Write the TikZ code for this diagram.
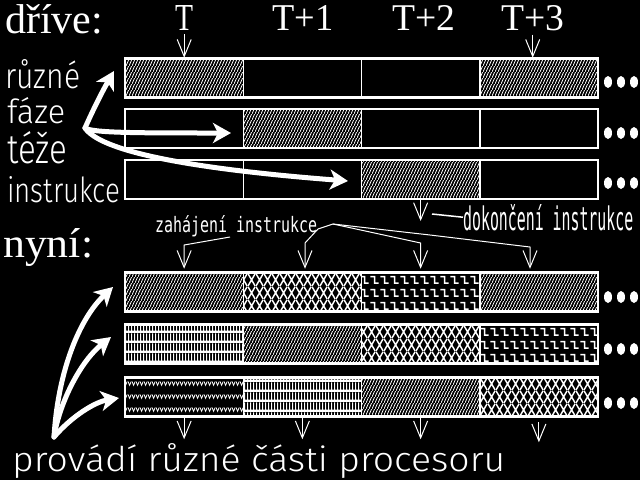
\documentclass[tikz,border=0pt]{standalone}
\usepackage{fontspec}
\setmainfont{Liberation Serif}
\newfontfamily\thin{Fira Sans Light}
\newfontfamily\monof{DejaVu Sans Mono}
\usepackage{graphicx}
\usetikzlibrary{patterns,arrows.meta}
\newcommand{\fitt}[3]{\resizebox{#1pt}{#2pt}{#3}}
\pgfdeclarepatternformonly{dith}{\pgfpointorigin}{\pgfqpoint{3pt}{6pt}}{\pgfqpoint{3pt}{6pt}}{%
  \pgfsetlinewidth{1pt}%
  \pgfpathmoveto{\pgfqpoint{-0.5pt}{-1pt}}\pgfpathlineto{\pgfqpoint{3.5pt}{7pt}}\pgfusepath{stroke}}
\pgfdeclarepatternformonly{diam}{\pgfpointorigin}{\pgfqpoint{8pt}{13pt}}{\pgfqpoint{8pt}{13pt}}{%
  \pgfsetlinewidth{1.6pt}%
  \pgfpathmoveto{\pgfqpoint{0pt}{0pt}}\pgfpathlineto{\pgfqpoint{8pt}{13pt}}%
  \pgfpathmoveto{\pgfqpoint{8pt}{0pt}}\pgfpathlineto{\pgfqpoint{0pt}{13pt}}\pgfusepath{stroke}}
\pgfdeclarepatternformonly{zig}{\pgfpointorigin}{\pgfqpoint{10pt}{13pt}}{\pgfqpoint{10pt}{13pt}}{%
  \pgfsetlinewidth{1.6pt}%
  \pgfpathmoveto{\pgfqpoint{0.5pt}{10pt}}\pgfpathlineto{\pgfqpoint{5pt}{10pt}}%
  \pgfpathlineto{\pgfqpoint{5pt}{3pt}}\pgfpathlineto{\pgfqpoint{9.5pt}{3pt}}\pgfusepath{stroke}}
\pgfdeclarepatternformonly{bars}{\pgfpointorigin}{\pgfqpoint{3.4pt}{9.75pt}}{\pgfqpoint{3.4pt}{9.75pt}}{%
  \pgfpathrectangle{\pgfpointorigin}{\pgfqpoint{3.4pt}{2.5pt}}%
  \pgfpathrectangle{\pgfpointorigin}{\pgfqpoint{1.3pt}{9.75pt}}\pgfusepath{fill}}
\pgfdeclarepatternformonly{wave}{\pgfpointorigin}{\pgfqpoint{4pt}{13pt}}{\pgfqpoint{4pt}{13pt}}{%
  \pgfsetlinewidth{1pt}%
  \pgfpathmoveto{\pgfqpoint{0pt}{9pt}}\pgfpathlineto{\pgfqpoint{2pt}{5pt}}\pgfpathlineto{\pgfqpoint{4pt}{9pt}}\pgfusepath{stroke}}
\begin{document}
\begin{tikzpicture}[x=1pt,y=-1pt,
  txt/.style={inner sep=0pt, anchor=base west, text=white},
  cell/.style={draw=white, line width=1.5pt, minimum width=118.25pt, minimum height=39pt, inner sep=0pt},
  rowbox/.style={draw=white, line width=2.5pt, minimum width=473pt, minimum height=39pt, inner sep=0pt},
  pdith/.style={pattern=dith, pattern color=white},
  pdiam/.style={pattern=diam, pattern color=white},
  pzig/.style={pattern=zig, pattern color=white},
  pbars/.style={pattern=bars, pattern color=white},
  pwave/.style={pattern=wave, pattern color=white},
  big/.style={draw=white, line width=5pt, line cap=round, -{Stealth[length=18pt,width=20pt,inset=5pt]}},
  sar/.style={draw=white, line width=1pt, -{Straight Barb[length=17pt,width=14pt]}},
  lead/.style={draw=white, line width=1.5pt}]
\useasboundingbox (0,0) rectangle (640,480);
\fill[black] (0,0) rectangle (640,480);

% texts
\node[txt] (drive) at (5,33) {\fitt{98}{29}{dříve:}};
\node[txt] (t0) at (175,30) {\fitt{18}{25}{T}};
\node[txt] (t1) at (272,30) {\fitt{61}{25}{T+1}};
\node[txt] (t2) at (392,30) {\fitt{63}{25}{T+2}};
\node[txt] (t3) at (501,30) {\fitt{63}{25}{T+3}};
\node[txt] (l1) at (5,88) {\fitt{75}{29}{\thin různé}};
\node[txt] (l2) at (7,123) {\fitt{58}{26}{\thin fáze}};
\node[txt] (l3) at (7,163) {\fitt{60}{32}{\thin téže}};
\node[txt] (l4) at (7,202) {\fitt{113}{26}{\thin instrukce}};
\node[txt] (nyni) at (3,257) {\fitt{90}{29}{nyní:}};
\node[txt] (za) at (155,232) {\fitt{162}{17}{\monof zahájení instrukce}};
\node[txt] (dk) at (463,230) {\fitt{170}{26}{\monof dokončení instrukce}};
\node[txt] (pr) at (12,471) {\fitt{493}{28}{\thin provádí různé části procesoru}};

% earlier rows
\node[cell,pdith] (r1c1) at (184.125,78) {};
\node[cell] (r1c2) at (302.375,78) {};
\node[cell] (r1c3) at (420.625,78) {};
\node[cell,pdith] (r1c4) at (538.875,78) {};
\node[rowbox] (r1) at (361.5,78) {};
\node[cell] (r2c1) at (184.125,128.5) {};
\node[cell,pdith] (r2c2) at (302.375,128.5) {};
\node[cell] (r2c3) at (420.625,128.5) {};
\node[cell] (r2c4) at (538.875,128.5) {};
\node[rowbox] (r2) at (361.5,128.5) {};
\node[cell] (r3c1) at (184.125,179.5) {};
\node[cell] (r3c2) at (302.375,179.5) {};
\node[cell,pdith] (r3c3) at (420.625,179.5) {};
\node[cell] (r3c4) at (538.875,179.5) {};
\node[rowbox] (r3) at (361.5,179.5) {};

% now rows
\node[cell,pdith] (rAc1) at (184.125,292) {};
\node[cell,pdiam] (rAc2) at (302.375,292) {};
\node[cell,pzig] (rAc3) at (420.625,292) {};
\node[cell,pdith] (rAc4) at (538.875,292) {};
\node[rowbox] (rA) at (361.5,292) {};
\node[cell,pbars] (rBc1) at (184.125,344) {};
\node[cell,pdith] (rBc2) at (302.375,344) {};
\node[cell,pdiam] (rBc3) at (420.625,344) {};
\node[cell,pzig] (rBc4) at (538.875,344) {};
\node[rowbox] (rB) at (361.5,344) {};
\node[cell,pwave] (rCc1) at (184.125,397) {};
\node[cell,pbars] (rCc2) at (302.375,397) {};
\node[cell,pdith] (rCc3) at (420.625,397) {};
\node[cell,pdiam] (rCc4) at (538.875,397) {};
\node[rowbox] (rC) at (361.5,397) {};

% dots
\foreach \y in {82,133,183,297,349,403}
  \foreach \x in {608,621,634}
    \fill[white] (\x,\y) ellipse [x radius=4pt, y radius=6pt];

% top small arrows
\draw[sar] ([yshift=-4pt]t0.south) -- (t0.south |- r1c1.north);
\draw[sar] ([yshift=-4pt]t3.south) -- (t3.south |- r1c4.north);

% dokonceni
\coordinate (dkv) at (420.625,221);
\coordinate (dkl) at (432,214);
\draw[sar] (r3c3.south) -- (dkv);
\draw[lead] (dk.west) -- (dkl);

% zahajeni leaders
\coordinate (z1a) at (230,237);
\coordinate (z1b) at (184.125,245);
\coordinate (z2a) at (318,229);
\coordinate (z2b) at (305,243);
\coordinate (z3a) at (333,224);
\coordinate (z3b) at (420.625,243);
\coordinate (z4a) at (430,235);
\coordinate (z4b) at (530,247);
\draw[sar, shorten >=3pt] (z1a) -- (z1b) -- (z1b |- rAc1.north);
\draw[sar, shorten >=3pt] (z2a) -- (z2b) -- (z2b |- rAc2.north);
\draw[sar, shorten >=3pt] (z2a) -- (z3a) -- (z3b) -- (z3b |- rAc3.north);
\draw[sar, shorten >=3pt] (z3a) -- (z4a) -- (z4b) -- (z4b |- rAc4.north);

% bottom small arrows
\draw[sar] (rCc1.south) -- ([yshift=-22pt]rCc1.south);
\draw[sar] (rCc2.south) -- ([yshift=-22pt]rCc2.south);
\draw[sar] (rCc3.south) -- ([yshift=-22pt]rCc3.south);
\draw[sar] ([yshift=-5pt]rCc4.south) -- ([yshift=-25pt]rCc4.south);

% big arrows top
\coordinate (f1) at (85,128);
\coordinate (a1) at (114,71);
\coordinate (a2) at (231,133);
\coordinate (a3) at (348,181);
\draw[big] (f1) .. controls (92,112) and (102,92) .. (a1);
\draw[big] (f1) .. controls (92,133) and (140,133) .. (a2);
\draw[big] (f1) .. controls (100,150) and (180,168) .. (a3);

% big arrows bottom
\coordinate (f2) at (54,437);
\coordinate (b1) at (113,287);
\coordinate (b2) at (111,337);
\coordinate (b3) at (119,398);
\draw[big] (f2) .. controls (58,370) and (80,318) .. (b1);
\draw[big] (f2) .. controls (60,400) and (82,360) .. (b2);
\draw[big] (f2) .. controls (72,416) and (95,402) .. (b3);
\end{tikzpicture}
\end{document}
